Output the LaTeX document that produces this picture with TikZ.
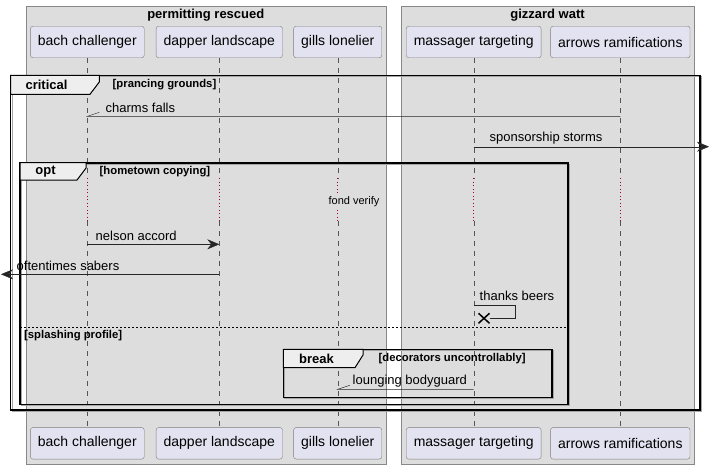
\documentclass[tikz,border=0pt]{standalone}
\usepackage{fontspec}
\setmainfont{Liberation Sans}
\usetikzlibrary{arrows.meta}
\definecolor{grpfill}{HTML}{DDDDDD}
\definecolor{grpline}{HTML}{888888}
\definecolor{partfill}{HTML}{E2E2F0}
\definecolor{partline}{HTML}{7E7E7E}
\definecolor{lifeline}{HTML}{555555}
\definecolor{delayred}{HTML}{A80036}
\definecolor{tabfill}{HTML}{EEEEEE}

\begin{document}
\begin{tikzpicture}[x=1pt,y=-1pt,
  part/.style={draw=partline,fill=partfill,rounded corners=2.5pt,minimum height=31.5pt,inner xsep=7.5pt,font=\fontsize{14}{16}\selectfont},
  grp/.style={draw=grpline,fill=grpfill},
  life/.style={draw=lifeline,dash pattern=on 5pt off 5pt},
  delay/.style={draw=delayred,line width=0.9pt,dash pattern=on 0.9pt off 2.6pt},
  msg/.style={draw=black!85},
  tip/.style={-{Stealth[length=12pt,width=10pt,inset=4pt]}},
  frm/.style={draw=black,line width=1.6pt,preaction={draw=black!35,line width=1pt,transform canvas={shift={(1.5pt,-1.5pt)}}}},
  tabbox/.style={draw=black,line width=1pt,fill=tabfill},
  lbl/.style={inner sep=0pt,font=\bfseries\fontsize{13}{15}\selectfont},
  grd/.style={anchor=west,inner sep=0pt,font=\bfseries\fontsize{11.3}{13}\selectfont},
  txt/.style={anchor=west,inner sep=0pt,font=\fontsize{13}{15}\selectfont}]
\useasboundingbox (0,0) rectangle (710,469);
\draw[grp] (26,6) rectangle (385.7,464);
\draw[grp] (401,6) rectangle (694,464);
\node[lbl] (grpA) at (205.8,15) {permitting rescued};
\node[lbl] (grpB) at (547.5,15) {gizzard watt};
\foreach \p/\x/\t in {bach/87.3/bach challenger,dapper/219.3/dapper landscape,gills/337.7/gills lonelier,massager/473.7/massager targeting,arrowsr/620.3/arrows ramifications}{
  \node[part] (\p) at (\x,42) {\t};
  \node[part] (\p-b) at (\x,443.3) {\t};
  \draw[life] (\p.south) -- (\p |- 0,178);
  \draw[delay] (\p |- 0,178) -- (\p |- 0,221);
  \draw[life] (\p |- 0,221) -- (\p-b.north);
}
\node[fill=grpfill,inner sep=1pt,font=\fontsize{11}{13}\selectfont] (fond) at (354,202) {fond verify};
\coordinate (offR) at (709,146.7);
\coordinate (offL) at (1,274.3);
% critical
\draw[frm] (10.5,75.3) rectangle (700,410);
\draw[tabbox] (10.5,75.3) -- (99.3,75.3) -- (99.3,82) -- (90,94.3) -- (10.5,94.3) -- cycle;
\node[lbl] (crit) at (46.5,85) {critical};
\node[grd] (critg) at (112.5,85) {[prancing grounds]};
\draw[msg] (arrowsr |- 0,116.3) -- (bach |- 0,116.3) -- ++(12,-4);
\node[txt] (m1) at (105.5,107.5) {charms falls};
\draw[msg,tip] (massager |- 0,146.7) -- (offR);
\node[txt] (m2) at (489.5,137.7) {sponsorship storms};
% opt
\draw[frm] (20,162.7) rectangle (567.7,404.3);
\draw[tabbox] (20,162.7) -- (86,162.7) -- (86,168) -- (77,180) -- (20,180) -- cycle;
\node[lbl] (opt) at (45.5,171.5) {opt};
\node[grd] (optg) at (99.5,171.5) {[hometown copying]};
\draw[msg,tip] (bach |- 0,244.3) -- (dapper |- 0,244.3);
\node[txt] (m3) at (95.5,235.7) {nelson accord};
\draw[msg,tip] (dapper |- 0,274.3) -- (offL);
\node[txt] (m4) at (16.5,265.7) {oftentimes sabers};
\draw[msg] (massager |- 0,305.3) -- ++(41.6,0) -- ++(0,13) -- (490,318.3);
\draw[line width=1.5pt] (478.5,313.3) -- (489.5,323.3) (478.5,323.3) -- (489.5,313.3);
\node[txt] (m5) at (479.5,295.7) {thanks beers};
\draw[dash pattern=on 2pt off 2pt] (20,326.7) -- (567.7,326.7);
\node[grd] (optg2) at (24,335.5) {[splashing profile]};
% break
\draw[frm] (283.3,349.3) rectangle (551.7,397.3);
\draw[tabbox] (283.3,349.3) -- (363,349.3) -- (363,355) -- (355,367.7) -- (283.3,367.7) -- cycle;
\node[lbl] (brk) at (316.5,358.5) {break};
\node[grd] (brkg) at (378.5,358.5) {[decorators uncontrollably]};
\draw[msg] (massager |- 0,389.3) -- (gills |- 0,389.3) -- ++(12,-4);
\node[txt] (m6) at (352.5,381) {lounging bodyguard};
\end{tikzpicture}
\end{document}
